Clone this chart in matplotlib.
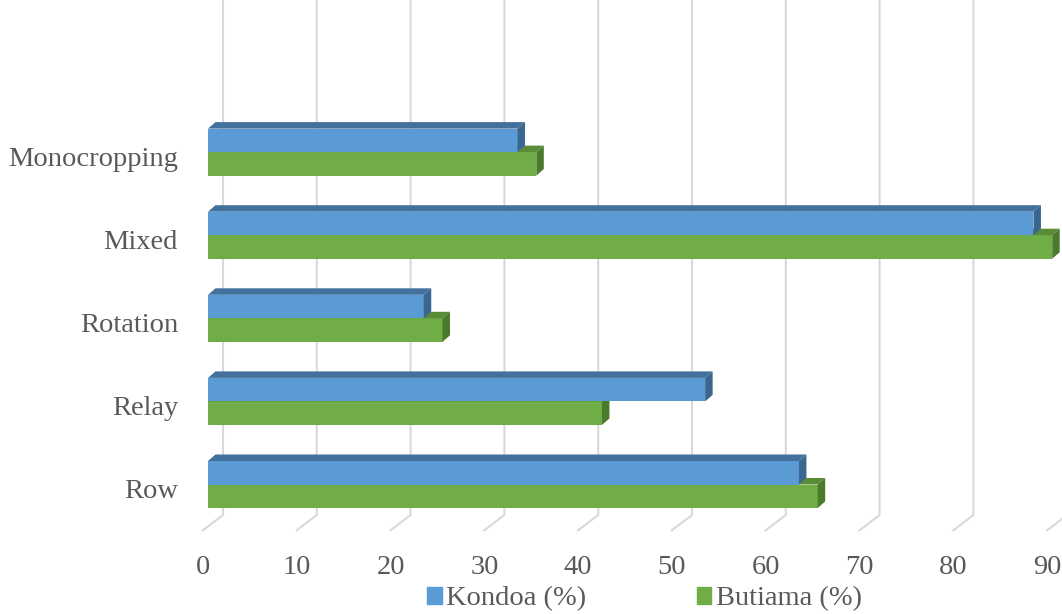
import matplotlib
matplotlib.use('Agg')
import matplotlib.pyplot as plt
from matplotlib.patches import Polygon, Patch

categories = ['Row', 'Relay', 'Rotation', 'Mixed', 'Monocropping']
kondoa = [63, 53, 23, 88, 33]
butiama = [65, 42, 25, 90, 35]
ticks = [0, 10, 20, 30, 40, 50, 60, 70, 80, 90]

plt.rcParams['font.family'] = ['Liberation Serif', 'DejaVu Serif']
grey = '#595959'

# pixel scale of the original picture, used only for the fake 3D offsets
px_x = 9.38   # pixels per value unit
px_y = 83.1   # pixels per category step

fig = plt.figure(figsize=(10.62, 6.14), dpi=100)
ax = fig.add_axes([0, 0, 1, 1])
ax.set_xlim(-208 / px_x, (1062 - 208) / px_x)
ax.set_ylim((484.5 - 614) / px_y, 484.5 / px_y)
ax.axis('off')

h = 23.5 / px_y          # bar thickness
dx = 7.5 / px_x          # bar depth, x
dy = 6.5 / px_y          # bar depth, y

# back wall gridlines and floor
back = 15 / px_x
front = -6 / px_x
y_top = 484.5 / px_y
y_floor_back = (484.5 - 515) / px_y
y_floor_front = (484.5 - 531) / px_y
for t in ticks:
    ax.plot([t + back, t + back, t + front], [y_top, y_floor_back, y_floor_front],
            color='#d9d9d9', lw=1.5, zorder=1, solid_capstyle='butt')
    ax.text(t - 5 / px_x, (484.5 - 567) / px_y, str(t), ha='center', va='center',
            fontsize=20.5, color=grey)


def box(y0, val, front_c, top_c, side_c, z):
    ax.barh(y0, val, height=h, left=0, align='edge', color=front_c, zorder=z)
    top = Polygon([(0, y0 + h), (val, y0 + h), (val + dx, y0 + h + dy), (dx, y0 + h + dy)],
                  closed=True, facecolor=top_c, edgecolor='none', zorder=z)
    side = Polygon([(val, y0), (val + dx, y0 + dy), (val + dx, y0 + h + dy), (val, y0 + h)],
                   closed=True, facecolor=side_c, edgecolor='none', zorder=z)
    ax.add_patch(top)
    ax.add_patch(side)


for i, cat in enumerate(categories):
    box(i - h, butiama[i], '#70ad47', '#5a8c38', '#4a7a2c', 2)
    box(i, kondoa[i], '#5b9bd5', '#41719c', '#3a6690', 3)
    ax.text(-30 / px_x, i - 7.5 / px_y, cat, ha='right', va='center',
            fontsize=20.5, color=grey)

handles = [Patch(color='#5b9bd5', label='Kondoa (%)'),
           Patch(color='#70ad47', label='Butiama (%)')]
leg = ax.legend(handles=handles, loc='center', bbox_to_anchor=(644.5 / 1062, 1 - 599 / 614),
                ncol=2, frameon=False, fontsize=20.5, handlelength=0.5, handleheight=0.5,
                handletextpad=0.15, columnspacing=3.9, borderpad=0)
for txt in leg.get_texts():
    txt.set_color(grey)

fig.savefig('out.png', dpi=100)
